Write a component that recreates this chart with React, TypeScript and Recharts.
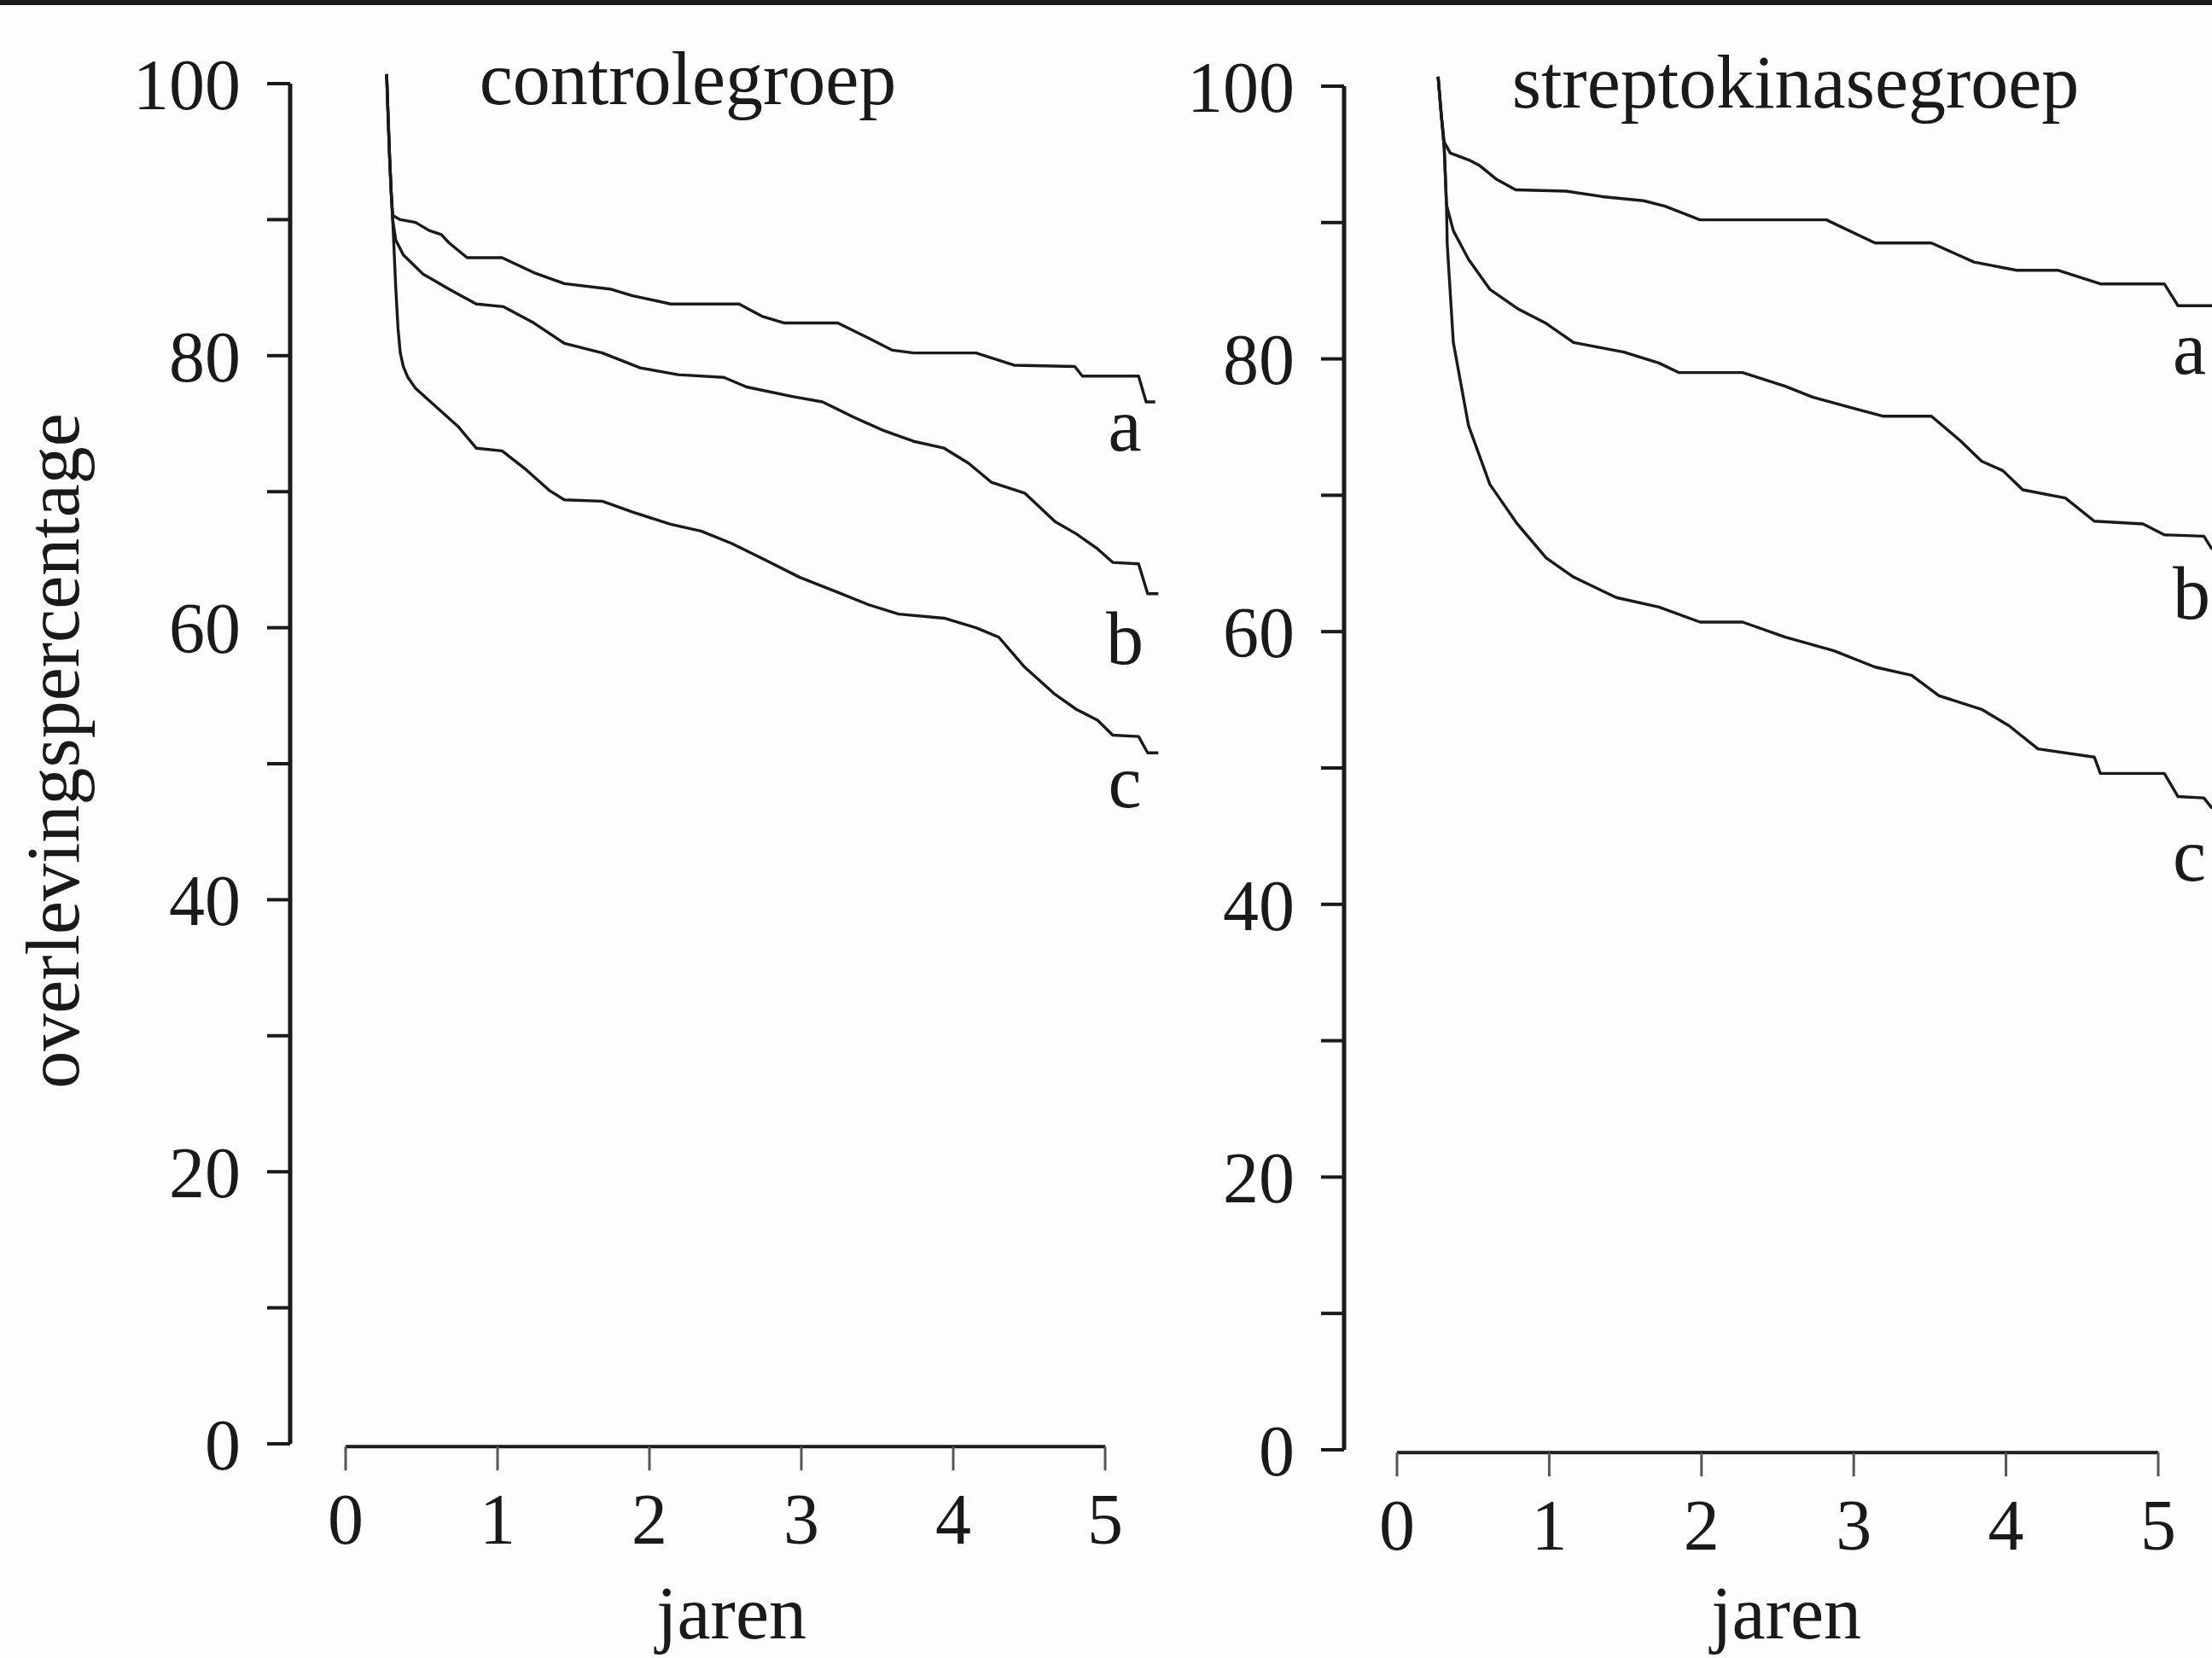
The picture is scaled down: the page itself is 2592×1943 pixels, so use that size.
import { Line, LineChart, ReferenceLine, XAxis, YAxis } from "recharts";

const YEAR_TICKS = [0, 1, 2, 3, 4, 5];
const PCT_TICKS = [0, 10, 20, 30, 40, 50, 60, 70, 80, 90, 100];

// [jaren, overlevingspercentage]
const controlA: [number, number][] = [
  [0.27, 100.7], [0.28, 97.5], [0.29, 94.5], [0.3, 92.0], [0.31, 90.3], [0.36, 90.0],
  [0.46, 89.8], [0.55, 89.2], [0.63, 88.9], [0.68, 88.3], [0.8, 87.2], [1.03, 87.2],
  [1.24, 86.1], [1.44, 85.3], [1.74, 84.9], [1.89, 84.4], [2.14, 83.8], [2.59, 83.8],
  [2.74, 82.9], [2.89, 82.4], [3.24, 82.4], [3.44, 81.3], [3.6, 80.4], [3.74, 80.2],
  [4.15, 80.2], [4.4, 79.3], [4.8, 79.2], [4.85, 78.5], [5.22, 78.5], [5.27, 76.6], [5.33, 76.6],
];
const controlB: [number, number][] = [
  [0.27, 100.7], [0.28, 97.5], [0.29, 94.5], [0.3, 92.0], [0.31, 90.0], [0.33, 88.5],
  [0.38, 87.4], [0.51, 86.0], [0.68, 84.9], [0.86, 83.8], [1.04, 83.6], [1.24, 82.4],
  [1.44, 80.9], [1.69, 80.2], [1.94, 79.1], [2.19, 78.6], [2.49, 78.4], [2.64, 77.7],
  [2.94, 77.0], [3.14, 76.6], [3.34, 75.5], [3.54, 74.5], [3.74, 73.7], [3.94, 73.2],
  [4.1, 72.1], [4.25, 70.7], [4.47, 69.9], [4.67, 67.8], [4.81, 66.9], [4.95, 65.8],
  [5.05, 64.8], [5.22, 64.7], [5.28, 62.5], [5.35, 62.5],
];
const controlC: [number, number][] = [
  [0.27, 100.7], [0.28, 97.5], [0.29, 94.5], [0.3, 92.0], [0.31, 90.0], [0.32, 87.5],
  [0.33, 85.0], [0.345, 82.0], [0.36, 80.2], [0.38, 79.2], [0.41, 78.4], [0.46, 77.6],
  [0.56, 76.6], [0.74, 74.8], [0.86, 73.2], [1.03, 73.0], [1.19, 71.6], [1.34, 70.1],
  [1.44, 69.4], [1.69, 69.3], [1.89, 68.5], [2.14, 67.6], [2.34, 67.1], [2.54, 66.2],
  [2.74, 65.1], [2.99, 63.7], [3.24, 62.6], [3.44, 61.7], [3.64, 61.0], [3.94, 60.7],
  [4.15, 60.0], [4.3, 59.3], [4.47, 57.1], [4.67, 55.1], [4.81, 54.0], [4.95, 53.2],
  [5.05, 52.1], [5.22, 52.0], [5.28, 50.8], [5.35, 50.8],
];

const streptoA: [number, number][] = [
  [0.27, 100.7], [0.29, 98.0], [0.31, 95.9], [0.35, 95.1], [0.47, 94.6], [0.54, 94.2],
  [0.65, 93.2], [0.78, 92.4], [1.11, 92.3], [1.35, 91.9], [1.62, 91.6], [1.76, 91.2],
  [1.99, 90.2], [2.82, 90.2], [3.14, 88.5], [3.51, 88.5], [3.79, 87.1], [4.07, 86.5],
  [4.34, 86.5], [4.62, 85.5], [5.04, 85.5], [5.13, 83.9], [5.45, 83.9],
];
const streptoB: [number, number][] = [
  [0.27, 100.7], [0.29, 98.0], [0.31, 95.5], [0.325, 91.3], [0.37, 89.4], [0.47, 87.3],
  [0.61, 85.1], [0.79, 83.7], [0.98, 82.6], [1.16, 81.2], [1.49, 80.5], [1.72, 79.7],
  [1.85, 79.0], [2.27, 79.0], [2.55, 78.0], [2.73, 77.2], [2.96, 76.5], [3.19, 75.8],
  [3.51, 75.8], [3.7, 74.0], [3.84, 72.5], [3.98, 71.8], [4.11, 70.4], [4.39, 69.8],
  [4.58, 68.1], [4.9, 67.9], [5.04, 67.1], [5.3, 67.0], [5.35, 66.1], [5.45, 66.1],
];
const streptoC: [number, number][] = [
  [0.27, 100.7], [0.29, 98.0], [0.31, 95.5], [0.325, 91.3], [0.33, 88.4], [0.37, 81.2],
  [0.47, 75.1], [0.61, 70.8], [0.79, 67.9], [0.98, 65.4], [1.16, 64.0], [1.44, 62.5],
  [1.72, 61.8], [1.99, 60.7], [2.27, 60.7], [2.55, 59.6], [2.87, 58.6], [3.14, 57.4],
  [3.38, 56.8], [3.56, 55.3], [3.84, 54.3], [4.02, 53.1], [4.21, 51.4], [4.58, 50.8],
  [4.62, 49.6], [5.04, 49.6], [5.13, 47.9], [5.3, 47.8], [5.35, 47.1], [5.45, 47.1],
];

const INK = "#1a1a1a";
const FONT = "'Liberation Serif', 'Times New Roman', serif";
const FS = 84;
const Y_TOP = 101;
const Y_BOTTOM = -0.2;

const toRows = (pts: [number, number][]) => pts.map(([t, v]) => ({ t, v }));

function Panel({
  series,
  yAxisX,
  x0,
  pxPerYear,
  y100,
  y0,
  right,
}: {
  series: [number, number][][];
  yAxisX: number;
  x0: number;
  pxPerYear: number;
  y100: number;
  y0: number;
  right: number;
}) {
  const xMin = (yAxisX - x0) / pxPerYear;
  const xMax = (right - x0) / pxPerYear;
  const pxPerPct = (y0 - y100) / 100;
  const top = y100 - (Y_TOP - 100) * pxPerPct;
  const bottom = y0 - Y_BOTTOM * pxPerPct;
  const height = bottom + 170;
  return (
    <div style={{ position: "absolute", left: 0, top: 0 }}>
      <LineChart width={right} height={height} margin={{ top, right: 0, left: 0, bottom: 20 }}>
        <XAxis
          type="number"
          dataKey="t"
          domain={[xMin, xMax]}
          allowDataOverflow
          ticks={YEAR_TICKS}
          interval={0}
          height={150}
          axisLine={false}
          tickSize={28}
          tickMargin={26}
          tickLine={{ stroke: "#555", strokeWidth: 3 }}
          tick={{ fontFamily: FONT, fontSize: FS, fill: INK }}
        />
        <YAxis
          type="number"
          domain={[Y_BOTTOM, Y_TOP]}
          allowDataOverflow
          ticks={PCT_TICKS}
          interval={0}
          width={yAxisX}
          axisLine={false}
          tickSize={27}
          tickMargin={31}
          tickLine={{ stroke: INK, strokeWidth: 4 }}
          tick={{ fontFamily: FONT, fontSize: FS, fill: INK }}
          tickFormatter={(v: number) => (v % 20 === 0 ? String(v) : "")}
        />
        <ReferenceLine
          segment={[{ x: xMin, y: 0 }, { x: xMin, y: 100 }]}
          stroke={INK}
          strokeWidth={5}
          ifOverflow="visible"
        />
        <ReferenceLine
          segment={[{ x: 0, y: Y_BOTTOM }, { x: 5, y: Y_BOTTOM }]}
          stroke={INK}
          strokeWidth={4}
          ifOverflow="visible"
        />
        {series.map((s, i) => (
          <Line
            key={i}
            data={toRows(s)}
            dataKey="v"
            type="linear"
            stroke={INK}
            strokeWidth={3.4}
            strokeLinejoin="round"
            dot={false}
            activeDot={false}
            isAnimationActive={false}
          />
        ))}
      </LineChart>
    </div>
  );
}

export default function App() {
  const text = { fontFamily: FONT, fontSize: FS + 4, fill: INK };
  return (
    <div
      style={{
        position: "absolute",
        left: 0,
        top: 0,
        width: 2592,
        height: 1943,
        overflow: "hidden",
        background: "#fdfdfd",
      }}
    >
      <div style={{ position: "absolute", left: 0, top: 0, width: 2592, height: 6, background: INK }} />
      <Panel
        series={[controlA, controlB, controlC]}
        yAxisX={340}
        x0={405}
        pxPerYear={178}
        y100={98}
        y0={1692}
        right={1380}
      />
      <Panel
        series={[streptoA, streptoB, streptoC]}
        yAxisX={1575}
        x0={1637}
        pxPerYear={178.4}
        y100={101}
        y0={1699}
        right={2620}
      />
      <svg
        width={2592}
        height={1943}
        style={{ position: "absolute", left: 0, top: 0, pointerEvents: "none" }}
      >
        <text x={806} y={122} textAnchor="middle" {...text}>controlegroep</text>
        <text x={2104} y={126} textAnchor="middle" {...text}>streptokinasegroep</text>
        <text transform="translate(92, 880) rotate(-90)" textAnchor="middle" {...text}>
          overlevingspercentage
        </text>
        <text x={857} y={1920} textAnchor="middle" {...text}>jaren</text>
        <text x={2093} y={1920} textAnchor="middle" {...text}>jaren</text>
        <text x={1318} y={528} textAnchor="middle" {...text}>a</text>
        <text x={1318} y={778} textAnchor="middle" {...text}>b</text>
        <text x={1318} y={946} textAnchor="middle" {...text}>c</text>
        <text x={2546} y={438} {...text}>a</text>
        <text x={2546} y={725} {...text}>b</text>
        <text x={2546} y={1032} {...text}>c</text>
      </svg>
    </div>
  );
}
